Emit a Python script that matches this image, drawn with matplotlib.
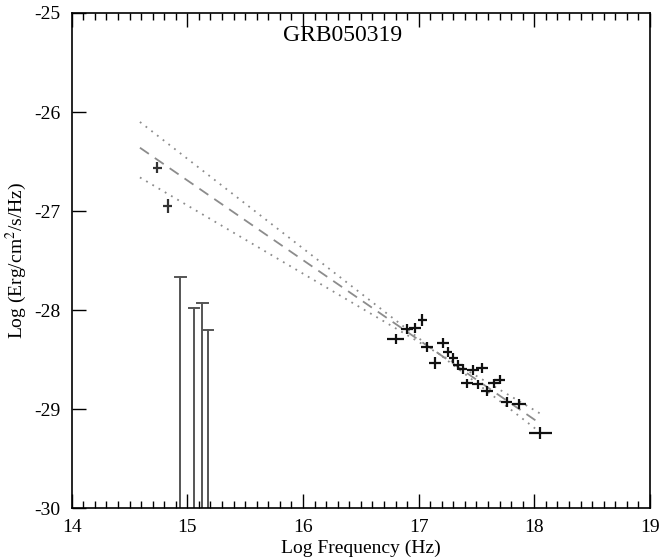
import numpy as np
import matplotlib.pyplot as plt

plt.rcParams['font.family'] = ['Liberation Serif', 'DejaVu Serif']
plt.rcParams['mathtext.fontset'] = 'stix'

# optical/UV detections
opt_x = [14.74, 14.83]
opt_y = [-26.56, -26.95]
opt_xerr = [0.04, 0.04]
opt_yerr = [0.06, 0.07]

# optical/UV upper limits
ul_x = [14.94, 15.06, 15.13, 15.18]
ul_y = [-27.67, -27.98, -27.93, -28.20]

# X-ray spectrum
xr_x = [16.80, 16.90, 16.97, 17.03, 17.07, 17.14, 17.21, 17.25, 17.30, 17.34,
        17.38, 17.42, 17.47, 17.51, 17.55, 17.59, 17.65, 17.70, 17.76, 17.87, 18.05]
xr_y = [-28.29, -28.19, -28.18, -28.10, -28.37, -28.53, -28.33, -28.42, -28.48, -28.55,
        -28.59, -28.74, -28.60, -28.75, -28.58, -28.82, -28.74, -28.70, -28.93, -28.95, -29.24]
xr_xerr = [0.07, 0.05, 0.05, 0.04, 0.05, 0.05, 0.05, 0.04, 0.04, 0.04,
           0.04, 0.05, 0.05, 0.05, 0.05, 0.05, 0.05, 0.05, 0.05, 0.06, 0.10]
xr_yerr = [0.05, 0.05, 0.05, 0.06, 0.05, 0.06, 0.05, 0.05, 0.05, 0.05,
           0.05, 0.05, 0.05, 0.05, 0.05, 0.05, 0.05, 0.05, 0.05, 0.05, 0.06]

# power-law fit and its bounds: (x start, y start, x end, y end)
fit_line = (14.59, -26.36, 18.02, -29.12)
fit_upper = (14.59, -26.10, 18.08, -29.26)
fit_lower = (14.59, -26.66, 18.06, -29.05)

x_ticks = [14, 15, 16, 17, 18, 19]
y_ticks = [-30, -29, -28, -27, -26, -25]

fig = plt.figure(figsize=(6.59, 5.60), dpi=100)
ax = fig.add_axes([0.1088, 0.0923, 0.8775, 0.8845])

# fit lines
for (x0, y0, x1, y1), ls in [(fit_upper, (0, (1, 3))), (fit_lower, (0, (1, 3))),
                             (fit_line, (0, (6, 4)))]:
    ax.plot([x0, x1], [y0, y1], color='#8c8c8c', lw=1.3, linestyle=ls)

# upper limits: line from value down to axis bottom with a cap
for x, y in zip(ul_x, ul_y):
    ax.plot([x, x], [-30, y], color='#555555', lw=1.4)
    ax.plot([x - 0.045, x + 0.045], [y, y], color='#555555', lw=1.4)

ax.errorbar(opt_x, opt_y, xerr=opt_xerr, yerr=opt_yerr, fmt='none',
            ecolor='#333333', elinewidth=1.6, capsize=0)
ax.errorbar(xr_x, xr_y, xerr=xr_xerr, yerr=xr_yerr, fmt='none',
            ecolor='#111111', elinewidth=1.6, capsize=0)

ax.set_xlim(14, 19)
ax.set_ylim(-30, -25)
ax.set_xticks(x_ticks)
ax.set_xticklabels([str(v) for v in x_ticks])
ax.set_xticks(np.arange(14, 19.001, 0.1), minor=True)
ax.set_yticks(y_ticks)
ax.set_yticklabels([str(v) for v in y_ticks])
ax.tick_params(axis='x', which='both', direction='in', top=True, bottom=True,
               labelsize=14, pad=8)
ax.tick_params(axis='x', which='major', length=10, width=1)
ax.tick_params(axis='x', which='minor', length=5, width=1)
ax.tick_params(axis='y', which='major', direction='in', left=True, right=False,
               length=10, width=1, labelsize=14, pad=8)
for s in ax.spines.values():
    s.set_linewidth(1.2)

ax.set_xlabel('Log Frequency (Hz)', fontsize=14, labelpad=2)
ax.set_ylabel('Log (Erg/cm$^2$/s/Hz)', fontsize=14, labelpad=4)
ax.text(0.469, 0.955, 'GRB050319', transform=ax.transAxes, fontsize=17,
        ha='center', va='center')

fig.savefig('out.png', dpi=100)
